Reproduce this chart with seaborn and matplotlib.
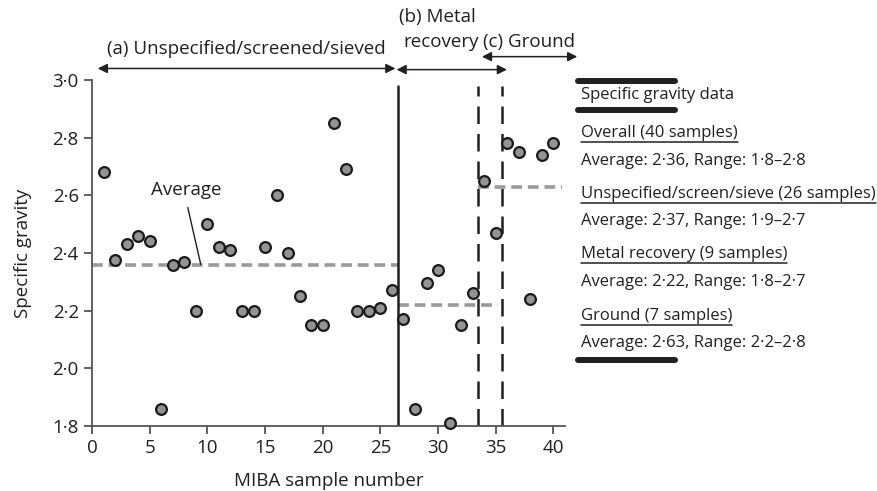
import matplotlib
matplotlib.use('Agg')
import matplotlib.pyplot as plt
from matplotlib.lines import Line2D
from matplotlib.ticker import FuncFormatter
import pandas as pd
import seaborn as sns

# Data
sample_no = list(range(1, 41))
specific_gravity = [2.68, 2.375, 2.43, 2.46, 2.44, 1.86, 2.36, 2.37, 2.20, 2.50,
                    2.42, 2.41, 2.20, 2.20, 2.42, 2.60, 2.40, 2.25, 2.15, 2.15,
                    2.85, 2.69, 2.20, 2.20, 2.21, 2.27, 2.17, 1.86, 2.295, 2.34,
                    1.81, 2.15, 2.26, 2.65, 2.47, 2.78, 2.75, 2.24, 2.74, 2.78]

# group averages: (value, start, end)
avg_values = [2.36, 2.22, 2.63]
avg_starts = [0, 26.5, 33.5]
avg_ends = [26.5, 35.2, 40.7]

solid_split = 26.5
dashed_splits = [33.5, 35.5]

x_ticks = [0, 5, 10, 15, 20, 25, 30, 35, 40]
y_ticks = [1.8, 2.0, 2.2, 2.4, 2.6, 2.8, 3.0]

legend_head = ['Overall (40 samples)', 'Unspecified/screen/sieve (26 samples)',
               'Metal recovery (9 samples)', 'Ground (7 samples)']
legend_body = ['Average: 2\u00b736, Range: 1\u00b78\u20132\u00b78',
               'Average: 2\u00b737, Range: 1\u00b79\u20132\u00b77',
               'Average: 2\u00b722, Range: 1\u00b78\u20132\u00b77',
               'Average: 2\u00b763, Range: 2\u00b72\u20132\u00b78']

df = pd.DataFrame({'sample': sample_no, 'sg': specific_gravity})

sns.set_style('ticks')
plt.rcParams['font.family'] = ['Open Sans', 'DejaVu Sans']
txt = '#231f20'
W, H = 878, 491

fig = plt.figure(figsize=(W / 100, H / 100), dpi=100)
ax = fig.add_axes([92 / W, 65 / H, (565 - 92) / W, 346 / H])

# average lines
for v, a, b in zip(avg_values, avg_starts, avg_ends):
    ax.plot([a, b], [v, v], color='#9a9a9a', lw=2.6, ls=(0, (3, 1.6)), zorder=1)

# group separators
ax.plot([solid_split, solid_split], [1.8, 2.98], color='#231f20', lw=1.8, zorder=2)
for d in dashed_splits:
    ax.plot([d, d], [1.8, 2.98], color='#231f20', lw=1.8, ls=(0, (7, 4)), zorder=2)

sns.scatterplot(data=df, x='sample', y='sg', ax=ax, s=60, color='#939393',
                edgecolor='#1a1a1a', linewidth=1.6, zorder=3, clip_on=False)

ax.set_xlim(0, 41)
ax.set_ylim(1.8, 3.0)
ax.set_xticks(x_ticks)
ax.set_yticks(y_ticks)
ax.yaxis.set_major_formatter(FuncFormatter(lambda v, p: f'{v:.1f}'.replace('.', '\u00b7')))
sns.despine(ax=ax)
for s in ['left', 'bottom']:
    ax.spines[s].set_color('#555555')
    ax.spines[s].set_linewidth(1.3)
ax.tick_params(colors='#555555', labelcolor=txt, labelsize=13.5, length=6, width=1.3)
ax.set_xlabel('MIBA sample number', fontsize=13.5, color=txt, labelpad=11)
ax.set_ylabel('Specific gravity', fontsize=13.5, color=txt, labelpad=15)

# "Average" callout
ax.text(8.2, 2.618, 'Average', fontsize=13.5, color=txt, ha='center', va='center')
ax.plot([8.3, 9.43], [2.558, 2.36], color=txt, lw=1)

# group arrows and labels above the plot
arrow = dict(arrowstyle='<|-|>', color=txt, lw=1.1, mutation_scale=14, shrinkA=0, shrinkB=0)
ax.annotate('', xy=(26.3, 3.04), xytext=(0.5, 3.04), arrowprops=arrow, annotation_clip=False)
ax.annotate('', xy=(35.97, 3.036), xytext=(26.4, 3.036), arrowprops=arrow, annotation_clip=False)
ax.annotate('', xy=(42.06, 3.081), xytext=(33.8, 3.081), arrowprops=arrow, annotation_clip=False)
ax.text(13.36, 3.107, '(a) Unspecified/screened/sieved', fontsize=13.5, color=txt,
        ha='center', va='center', clip_on=False)
ax.text(26.6, 3.219, '(b) Metal', fontsize=13.5, color=txt, ha='left', va='center', clip_on=False)
ax.text(27.0, 3.132, 'recovery', fontsize=13.5, color=txt, ha='left', va='center', clip_on=False)
ax.text(33.9, 3.132, '(c) Ground', fontsize=13.5, color=txt, ha='left', va='center', clip_on=False)

# legend-like text box on the right
def fy(py):
    return 1 - py / H

lx = 581 / W
for py in [81, 110, 360]:
    fig.add_artist(Line2D([578 / W, 675 / W], [fy(py), fy(py)], color='#231f20', lw=4.3))
fig.text(lx, fy(95), 'Specific gravity data', fontsize=12, color=txt, va='center')

head_y = [133, 194, 254, 316]
body_y = [161, 221, 282, 343]
heads = []
for hy, by, h, b in zip(head_y, body_y, legend_head, legend_body):
    heads.append(fig.text(lx, fy(hy), h, fontsize=12, color=txt, va='center'))
    fig.text(lx, fy(by), b, fontsize=12, color=txt, va='center')

fig.canvas.draw()
for t in heads:
    bb = t.get_window_extent()
    fig.add_artist(Line2D([bb.x0 / W, bb.x1 / W], [(bb.y0 - 1) / H, (bb.y0 - 1) / H],
                          color='#231f20', lw=1.1))

fig.savefig('out.png', dpi=100)
